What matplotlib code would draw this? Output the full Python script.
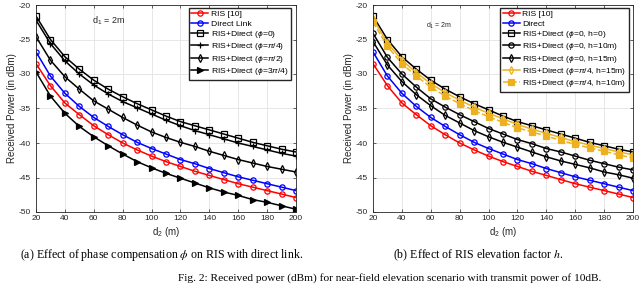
import numpy as np
import matplotlib
matplotlib.use("Agg")
import matplotlib.pyplot as plt
from matplotlib.font_manager import FontProperties

plt.rcParams['font.family'] = ['Liberation Sans', 'DejaVu Sans']
plt.rcParams['axes.unicode_minus'] = False
plt.rcParams['mathtext.fontset'] = 'custom'
plt.rcParams['mathtext.rm'] = 'Liberation Sans'
plt.rcParams['mathtext.it'] = 'Liberation Sans:italic'

# distance d2 (m)
d2 = [20, 30, 40, 50, 60, 70, 80, 90, 100, 110, 120, 130, 140, 150, 160, 170, 180, 190, 200]

# received power (dBm)
ris = [-28.5, -31.7, -34.2, -35.9, -37.5, -38.8, -40.0, -41.0, -41.9, -42.7, -43.4, -44.1, -44.7, -45.3, -45.9, -46.4, -46.9, -47.4, -47.9]
direct = [-26.8, -30.3, -32.8, -34.7, -36.3, -37.6, -38.8, -39.9, -40.8, -41.6, -42.4, -43.0, -43.7, -44.3, -44.9, -45.4, -45.9, -46.4, -46.9]
phi_0 = [-21.6, -25.0, -27.5, -29.3, -30.9, -32.2, -33.3, -34.3, -35.2, -36.1, -36.9, -37.5, -38.1, -38.7, -39.3, -39.9, -40.4, -40.9, -41.3]
phi_pi4 = [-22.2, -25.6, -28.1, -30.0, -31.6, -32.9, -34.0, -34.9, -35.8, -36.7, -37.5, -38.2, -38.8, -39.4, -40.0, -40.5, -41.0, -41.5, -41.9]
phi_pi2 = [-24.6, -28.0, -30.4, -32.2, -33.9, -35.1, -36.3, -37.4, -38.4, -39.2, -39.9, -40.5, -41.2, -41.8, -42.4, -42.9, -43.4, -43.8, -44.2]
phi_3pi4 = [-29.7, -33.2, -35.7, -37.6, -39.1, -40.4, -41.6, -42.7, -43.6, -44.4, -45.1, -45.8, -46.5, -47.1, -47.6, -48.2, -48.6, -49.1, -49.6]

h10 = [-24.1, -27.6, -30.0, -31.9, -33.6, -34.8, -35.9, -36.9, -37.9, -38.7, -39.5, -40.1, -40.8, -41.3, -41.9, -42.5, -43.0, -43.5, -43.9]
h15 = [-25.3, -28.7, -31.1, -33.0, -34.6, -36.0, -37.1, -38.2, -39.1, -39.9, -40.6, -41.3, -42.0, -42.6, -43.1, -43.6, -44.2, -44.6, -45.1]
pi4_h15 = [-22.0, -25.5, -28.0, -29.8, -31.4, -32.7, -33.8, -34.8, -35.7, -36.5, -37.3, -38.0, -38.6, -39.2, -39.8, -40.3, -40.8, -41.3, -41.7]
pi4_h10 = [-22.5, -26.0, -28.5, -30.3, -31.9, -33.2, -34.3, -35.3, -36.2, -37.0, -37.8, -38.4, -39.0, -39.6, -40.2, -40.7, -41.2, -41.7, -42.2]

orange = '#EDB120'
txt = '#262626'

fig = plt.figure(figsize=(6.4, 2.85), dpi=100)
ax1 = fig.add_axes([36/640, 1-212/285, 260/640, 207/285])
ax2 = fig.add_axes([373/640, 1-212/285, 260/640, 207/285])


def line(ax, y, color, marker, label, ls='-', filled=False):
    ax.plot(d2, y, ls, color=color, marker=marker, markersize=3.8, mew=0.9,
            mfc=color if filled else 'none', lw=1.1, label=label)


# (a) phase compensation
line(ax1, ris, 'red', 'o', 'RIS [10]')
line(ax1, direct, 'blue', 'o', 'Direct Link')
line(ax1, phi_0, 'black', 's', r'RIS+Direct ($\it{\phi}$=0)')
line(ax1, phi_pi4, 'black', '+', r'RIS+Direct ($\it{\phi}$=$\pi$/4)')
line(ax1, phi_pi2, 'black', 'd', r'RIS+Direct ($\it{\phi}$=$\pi$/2)')
line(ax1, phi_3pi4, 'black', '>', r'RIS+Direct ($\it{\phi}$=3$\pi$/4)', filled=True)

# (b) elevation factor
line(ax2, ris, 'red', 'o', 'RIS [10]')
line(ax2, direct, 'blue', 'o', 'Direct')
line(ax2, phi_0, 'black', 's', r'RIS+Direct ($\it{\phi}$=0, h=0)')
line(ax2, h10, 'black', 'o', r'RIS+Direct ($\it{\phi}$=0, h=10m)')
line(ax2, h15, 'black', 'd', r'RIS+Direct ($\it{\phi}$=0, h=15m)')
line(ax2, pi4_h15, orange, 'd', r'RIS+Direct ($\it{\phi}$=$\pi$/4, h=15m)')
line(ax2, pi4_h10, orange, 's', r'RIS+Direct ($\it{\phi}$=$\pi$/4, h=10m)', ls='--', filled=True)

for ax in (ax1, ax2):
    ax.set_xlim(20, 200)
    ax.set_ylim(-50, -20)
    ax.set_xticks(np.arange(20, 201, 20))
    ax.set_yticks(np.arange(-50, -19, 5))
    ax.grid(True, color='#e3e3e3', lw=0.6)
    ax.set_axisbelow(True)
    ax.tick_params(direction='in', length=2.5, width=0.5, labelsize=6, colors=txt,
                   top=True, right=True, pad=2.5)
    ax.tick_params(axis='y', pad=3.5)
    for s in ax.spines.values():
        s.set_color(txt)
        s.set_linewidth(0.6)
    ax.set_xlabel('d$_2$ (m)', fontsize=7, color=txt, labelpad=1.5)
    ax.set_ylabel('Received Power (in dBm)', fontsize=7, color=txt, labelpad=1.5)

leg_font = FontProperties(family=['Liberation Sans', 'DejaVu Sans'], size=6.1)
ax1.legend(loc='upper right', bbox_to_anchor=(0.982, 0.986), borderaxespad=0,
           prop=leg_font, handlelength=2.0, handletextpad=0.3, labelspacing=0.16,
           borderpad=0.3, fancybox=False, edgecolor=txt, framealpha=1)
ax2.legend(loc='upper right', bbox_to_anchor=(0.985, 0.986), borderaxespad=0,
           prop=leg_font, handlelength=2.0, handletextpad=0.3, labelspacing=0.16,
           borderpad=0.3, fancybox=False, edgecolor=txt, framealpha=1)

ax1.text(0.215, 0.925, 'd$_1$ = 2m', transform=ax1.transAxes, fontsize=6.5, color=txt,
         ha='left', va='center')
ax2.text(0.205, 0.9, 'd$_1$ = 2m', transform=ax2.transAxes, fontsize=5, color=txt,
         ha='left', va='center')

cap = dict(fontsize=8.6, family='Liberation Serif', math_fontfamily='stix', va='center')
fig.text(20/640, 1-255/285, r'(a) Effect of phase compensation $\phi$ on RIS with direct link.', **cap)
fig.text(393/640, 1-255/285, r'(b) Effect of RIS elevation factor $h$.', **cap)
fig.text(178/640, 1-278.5/285, 'Fig. 2: Received power (dBm) for near-field elevation scenario with transmit power of 10dB.',
         **dict(cap, fontsize=8.2))

fig.savefig('out.png', dpi=100)
